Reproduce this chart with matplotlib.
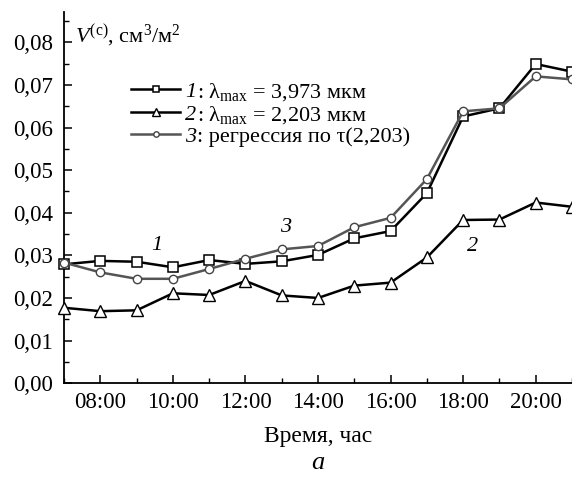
import matplotlib
matplotlib.use("Agg")
import matplotlib.pyplot as plt
from matplotlib.ticker import MultipleLocator, FuncFormatter

plt.rcParams['font.family'] = ['Liberation Serif', 'DejaVu Serif']
plt.rcParams['mathtext.fontset'] = 'custom'
plt.rcParams['mathtext.rm'] = 'Liberation Serif'
plt.rcParams['mathtext.it'] = 'Liberation Serif:italic'

hours = [7, 8, 9, 10, 11, 12, 13, 14, 15, 16, 17, 18, 19, 20, 21]
v_3973 = [0.0279, 0.0287, 0.0285, 0.0272, 0.0289, 0.0280, 0.0286, 0.0301,
          0.0340, 0.0357, 0.0446, 0.0626, 0.0645, 0.0749, 0.0731]
v_2203 = [0.0177, 0.0169, 0.0171, 0.0211, 0.0207, 0.0240, 0.0206, 0.0200,
          0.0229, 0.0236, 0.0295, 0.0383, 0.0384, 0.0424, 0.0414]
v_regr = [0.0283, 0.0260, 0.0245, 0.0245, 0.0268, 0.0292, 0.0314, 0.0322,
          0.0366, 0.0388, 0.0479, 0.0638, 0.0645, 0.0720, 0.0713]
series_nums = ['1', '2', '3']
labels = [': λ$_{\\mathrm{max}}$ = 3,973 мкм',
          ': λ$_{\\mathrm{max}}$ = 2,203 мкм',
          ': регрессия по τ(2,203)']

fig = plt.figure(figsize=(5.72, 4.79), dpi=100)
ax = fig.add_axes([0.112, 0.2, 0.888, 0.774])

l1, = ax.plot(hours, v_3973, color='black', lw=1.8, marker='s', ms=7,
              mfc='white', mec='black', mew=1.1, clip_on=False, zorder=3)
l2, = ax.plot(hours, v_2203, color='black', lw=1.8, marker='^', ms=9,
              mfc='white', mec='black', mew=1.0, clip_on=False, zorder=3)
l3, = ax.plot(hours, v_regr, color='#555555', lw=1.8, marker='o', ms=6,
              mfc='white', mec='#444444', mew=1.0, clip_on=False, zorder=4)

ax.set_xlim(7, 21)
ax.set_ylim(0, 0.087)
ax.xaxis.set_major_locator(MultipleLocator(2))
ax.xaxis.set_minor_locator(MultipleLocator(1))
ax.yaxis.set_major_locator(MultipleLocator(0.01))
ax.yaxis.set_minor_locator(MultipleLocator(0.005))
ax.xaxis.set_major_formatter(FuncFormatter(lambda v, p: f"{int(round(v)):02d}:00"))
ax.yaxis.set_major_formatter(FuncFormatter(lambda v, p: f"{v:.2f}".replace('.', ',')))
ax.set_xticks([8, 10, 12, 14, 16, 18, 20])

for s in ('top', 'right'):
    ax.spines[s].set_visible(False)
for s in ('left', 'bottom'):
    ax.spines[s].set_linewidth(1.3)
ax.tick_params(which='major', direction='in', length=6, width=1.1, labelsize=16.5)
ax.tick_params(which='minor', direction='in', length=3.5, width=1.0)
ax.tick_params(axis='x', pad=6)
ax.tick_params(axis='y', pad=8)

ax.text(0.022, 0.975, r'$\mathit{V}^{(\mathrm{c})}$, см$^3$/м$^2$', transform=ax.transAxes,
        fontsize=16, va='top', ha='left')

ax.text(9.55, 0.0324, '1', style='italic', fontsize=16, ha='center', va='center')
ax.text(13.1, 0.0366, '3', style='italic', fontsize=16, ha='center', va='center')
ax.text(18.27, 0.0320, '2', style='italic', fontsize=16, ha='center', va='center')

leg = ax.legend([l1, l2, l3], labels, loc='upper left', bbox_to_anchor=(0.115, 0.84),
                frameon=False, fontsize=16, handlelength=2.2, handletextpad=0.75,
                labelspacing=0.05, borderaxespad=0, markerscale=0.65)

# italic series numbers in front of each legend label
fig.canvas.draw()
inv = fig.transFigure.inverted()
for txt, num in zip(leg.get_texts(), series_nums):
    x0, y0 = txt.get_unitless_position()
    disp = txt.get_transform().transform((x0, y0))
    fx, fy = inv.transform(disp)
    fig.text(fx - 0.001, fy, num, ha='right', va=txt.get_va(),
             fontsize=16, style='italic')

ax.set_xlabel('Время, час', fontsize=17, labelpad=10)
fig.text(0.556, 0.02, 'a', style='italic', fontsize=19, ha='center')

fig.savefig('out.png', dpi=100)
